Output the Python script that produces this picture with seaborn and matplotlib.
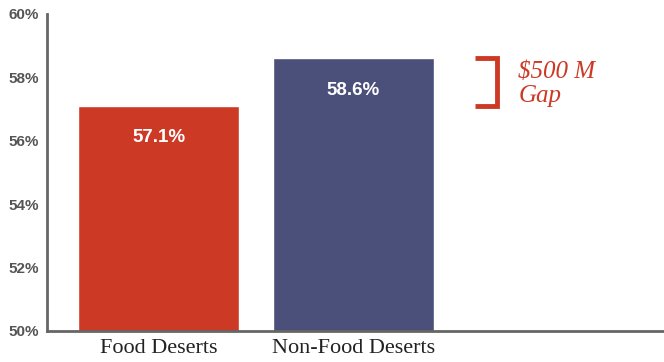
import matplotlib
matplotlib.use("Agg")
import matplotlib.pyplot as plt
import seaborn as sns
import pandas as pd

categories = ["Food Deserts", "Non-Food Deserts"]
values = [57.1, 58.6]
bar_labels = ["57.1%", "58.6%"]
colors = ["#CC3A26", "#4A5079"]
yticks = [50, 52, 54, 56, 58, 60]
gap_text = "\\$500 M\nGap"

df = pd.DataFrame({"category": categories, "value": values})

sns.set_theme(style="white")
plt.rcParams['font.family'] = ['Liberation Sans', 'DejaVu Sans']

fig = plt.figure(figsize=(6.64, 3.62), dpi=100)
ax = fig.add_axes([47/664, 1-331/362, 1-47/664, (331-14)/362])

sns.barplot(data=df, x="category", y="value", hue="category", palette=colors,
            width=0.826, saturation=1, legend=False, ax=ax)

ax.set_ylim(50, 60)
ax.set_xlim(-0.572, 2.592)
ax.set_yticks(yticks)
ax.set_yticklabels([f"{t}%" for t in yticks], fontsize=11, fontweight="bold", color="#555555")
ax.set_xticks(range(len(categories)))
ax.set_xticklabels(categories, fontsize=16, color="#222222", family="Liberation Serif")
ax.tick_params(axis="both", length=0)
ax.tick_params(axis="x", pad=6)
ax.tick_params(axis="y", pad=6)
ax.set_xlabel("")
ax.set_ylabel("")

for s in ["top", "right"]:
    ax.spines[s].set_visible(False)
for s in ["left", "bottom"]:
    ax.spines[s].set_color("#666666")
    ax.spines[s].set_linewidth(2)

for i, (v, lab) in enumerate(zip(values, bar_labels)):
    ax.text(i, v - 1.0, lab, ha="center", va="center", color="white",
            fontsize=13.5, fontweight="bold")

# bracket
lo, hi = values[0], values[1]
xb0, xb1 = 1.623, 1.736
ax.plot([xb0, xb1, xb1, xb0], [hi, hi, lo, lo], color="#CC3A26", lw=3.5,
        solid_joinstyle="miter", solid_capstyle="butt", clip_on=False)
ax.text(1.845, (hi + lo) / 2 - 0.05, gap_text, ha="left", va="center", color="#CC3A26",
        fontsize=18, fontstyle="italic", family="Liberation Serif", linespacing=1.1)

fig.savefig("out.png", dpi=100)
